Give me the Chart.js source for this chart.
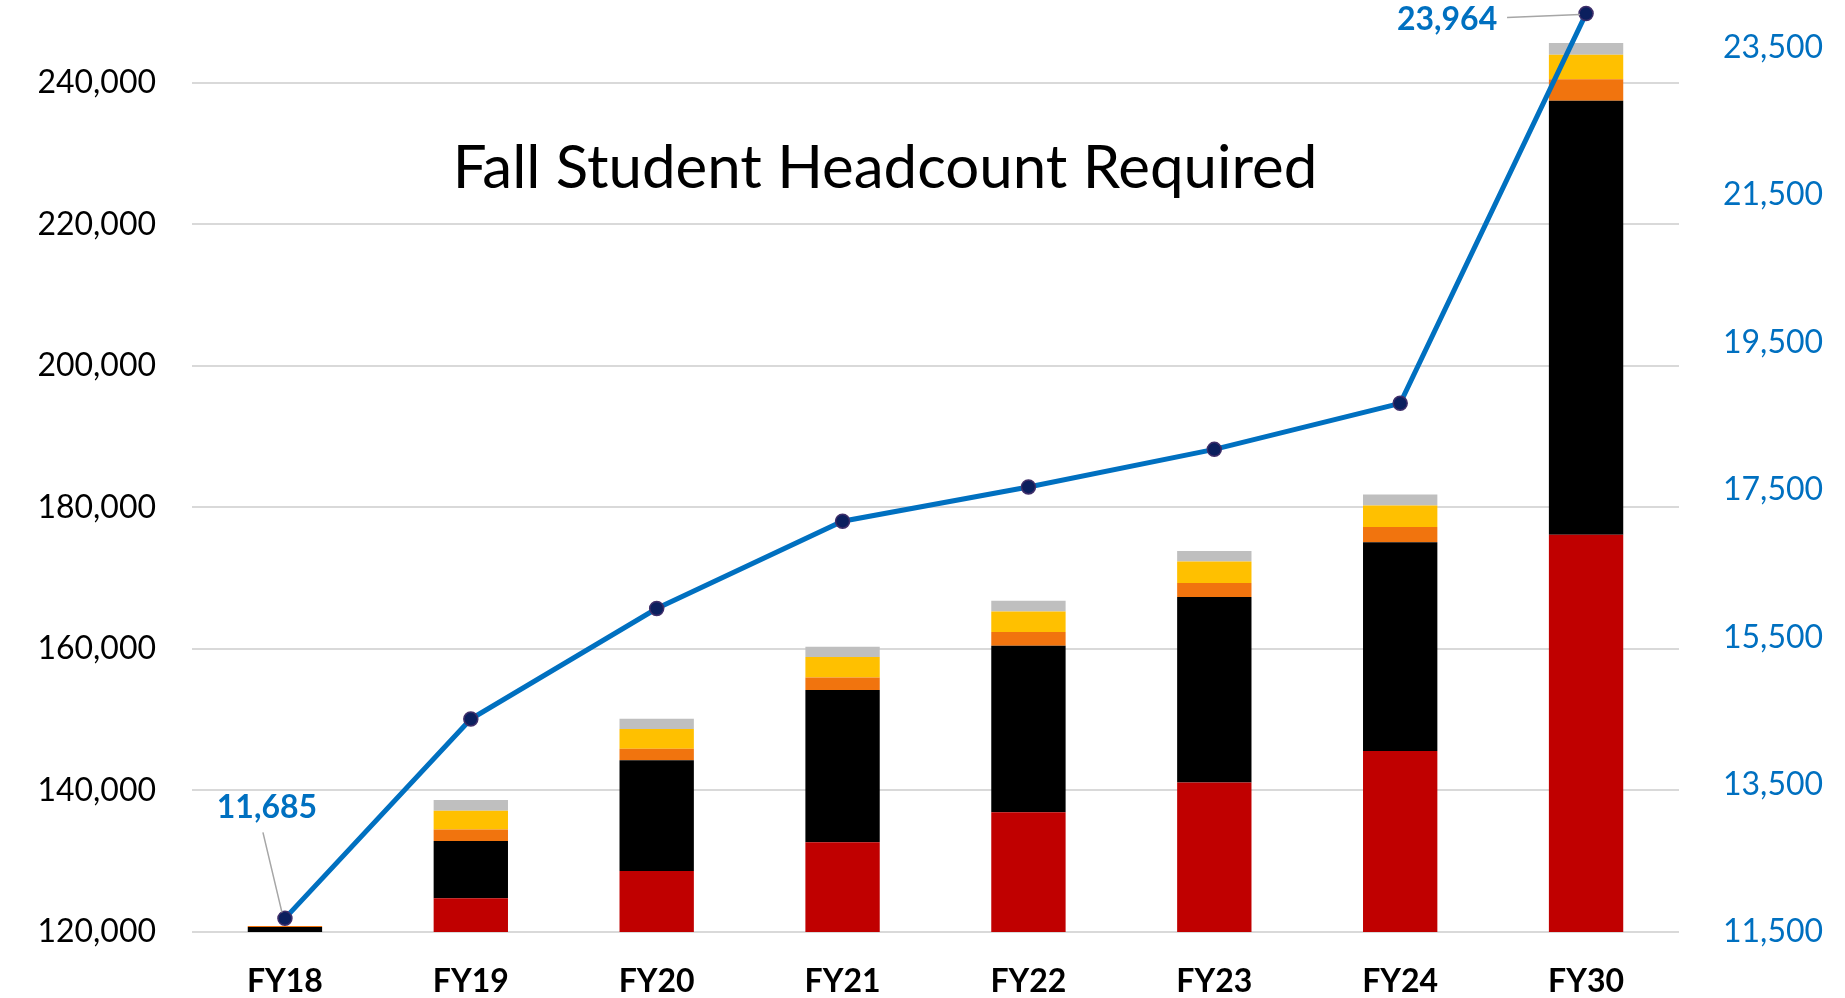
<!DOCTYPE html>
<html>
<head>
<meta charset="utf-8">
<script src="https://cdn.jsdelivr.net/npm/chart.js@4.4.1/dist/chart.umd.min.js"></script>
<style>
  html, body { margin: 0; padding: 0; background: #fff; }
  .wrap { width: 1845px; height: 998px; position: relative; }
</style>
</head>
<body>
<div class="wrap"><canvas id="chart"></canvas></div>
<script>
const categories = ['FY18', 'FY19', 'FY20', 'FY21', 'FY22', 'FY23', 'FY24', 'FY30']

// stacked bar segments (left axis)
const redValues = [120000, 124760, 128620, 132670, 136910, 141140, 145560, 176120]
const blackValues = [700, 8090, 15640, 21510, 23530, 26210, 29520, 61350]
const orangeValues = [150, 1650, 1640, 1790, 1940, 1980, 2160, 3010]
const yellowValues = [0, 2630, 2780, 2870, 2920, 3020, 3020, 3490]
const grayValues = [0, 1510, 1450, 1460, 1500, 1500, 1550, 1630]

// headcount line (right axis)
const headcount = [11685, 14390, 15890, 17075, 17540, 18050, 18675, 23964]

const leftTicks = [120000, 140000, 160000, 180000, 200000, 220000, 240000]
const rightTicks = [11500, 13500, 15500, 17500, 19500, 21500, 23500]

const titleText = 'Fall Student Headcount Required'

const fmt = v => Number(v).toLocaleString('en-US')

const bar = (data, color) => ({
    type: 'bar',
    data: data,
    backgroundColor: color,
    borderWidth: 0,
    yAxisID: 'y',
    stack: 'total',
    order: 2
})

const extras = {
    id: 'extras',
    afterDatasetsDraw(chart) {
        const ctx = chart.ctx
        const meta = chart.getDatasetMeta(5)
        const first = meta.data[0]
        const last = meta.data[meta.data.length - 1]

        ctx.save()
        // leader lines
        ctx.strokeStyle = '#a6a6a6'
        ctx.lineWidth = 1.5
        ctx.beginPath()
        ctx.moveTo(first.x - 22, first.y - 86)
        ctx.lineTo(first.x - 3, first.y - 6)
        ctx.moveTo(last.x - 79, last.y + 4)
        ctx.lineTo(last.x - 6, last.y + 1)
        ctx.stroke()

        ctx.fillStyle = '#0070C0'
        ctx.font = 'bold 32px Lato'
        ctx.textAlign = 'center'
        ctx.textBaseline = 'middle'
        ctx.fillText(fmt(headcount[0]), first.x - 18, first.y - 111)
        ctx.fillText(fmt(headcount[headcount.length - 1]), last.x - 139, last.y + 6)

        // title inside the plot
        ctx.fillStyle = '#000'
        ctx.font = '60px Lato'
        ctx.textBaseline = 'alphabetic'
        ctx.fillText(titleText, 885, 188)
        ctx.restore()
    }
}

new Chart(document.getElementById('chart'), {
    data: {
        labels: categories,
        datasets: [
            bar(redValues, '#C00000'),
            bar(blackValues, '#000000'),
            bar(orangeValues, '#F1740E'),
            bar(yellowValues, '#FFC000'),
            bar(grayValues, '#BFBFBF'),
            {
                type: 'line',
                data: headcount,
                yAxisID: 'y1',
                borderColor: '#0070C0',
                borderWidth: 5,
                pointRadius: 7,
                pointBackgroundColor: '#0B1F5E',
                pointBorderColor: '#3F2F6B',
                pointBorderWidth: 1.5,
                tension: 0,
                clip: false,
                order: 0
            }
        ]
    },
    options: {
        responsive: true,
        maintainAspectRatio: false,
        animation: false,
        layout: { padding: 0 },
        plugins: {
            legend: { display: false },
            tooltip: { enabled: false }
        },
        datasets: {
            bar: { categoryPercentage: 1, barPercentage: 0.4 }
        },
        scales: {
            x: {
                stacked: true,
                grid: { display: false },
                border: { display: false },
                ticks: {
                    color: '#000',
                    padding: 22,
                    font: { family: 'Lato', size: 32, weight: 'bold' }
                },
                afterFit: s => { s.height = 66 }
            },
            y: {
                stacked: true,
                position: 'left',
                min: 120000,
                max: 250490,
                grid: { color: '#d9d9d9', lineWidth: 2, drawTicks: false },
                border: { display: false },
                ticks: {
                    color: '#000',
                    padding: 36,
                    font: { family: 'Lato', size: 32 },
                    callback: v => fmt(v)
                },
                afterBuildTicks: s => { s.ticks = leftTicks.map(v => ({ value: v })) },
                afterFit: s => { s.width = 192; s.paddingTop = 0; s.paddingBottom = 0 }
            },
            y1: {
                position: 'right',
                min: 11500,
                max: 24033,
                grid: { display: false, drawTicks: false },
                border: { display: false },
                ticks: {
                    color: '#0070C0',
                    padding: 44,
                    font: { family: 'Lato', size: 32 },
                    callback: v => fmt(v)
                },
                afterBuildTicks: s => { s.ticks = rightTicks.map(v => ({ value: v })) },
                afterFit: s => { s.width = 166; s.paddingTop = 0; s.paddingBottom = 0 }
            }
        }
    },
    plugins: [extras]
})
</script>
</body>
</html>
